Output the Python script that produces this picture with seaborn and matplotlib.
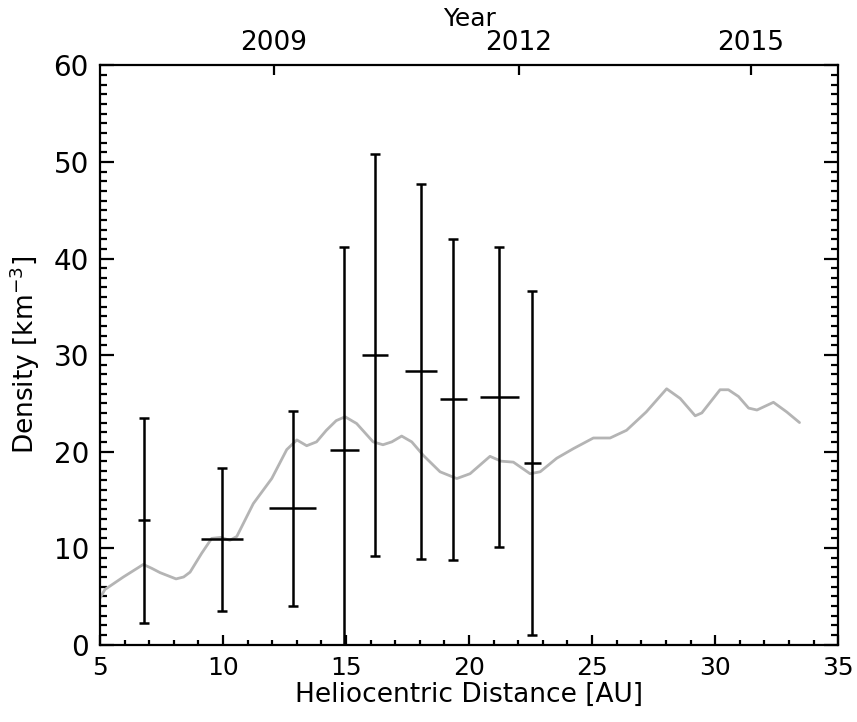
import numpy as np
import pandas as pd
import seaborn as sns
import matplotlib
matplotlib.use("Agg")
import matplotlib.pyplot as plt
from matplotlib.ticker import MultipleLocator, NullLocator

# error bar measurements
dist = [6.79, 9.95, 12.83, 14.93, 16.17, 18.05, 19.36, 21.23, 22.57]
dens = [12.9, 10.9, 14.1, 20.2, 30.0, 28.3, 25.4, 25.6, 18.8]
dens_hi = [23.5, 18.3, 24.2, 41.2, 50.8, 47.7, 42.0, 41.2, 36.6]
dens_lo = [2.2, 3.5, 4.0, -2.0, 9.2, 8.9, 8.8, 10.1, 1.0]
dist_err = [0.24, 0.86, 0.95, 0.6, 0.54, 0.64, 0.54, 0.79, 0.34]

# model curve (gray)
curve_x = [5.0, 5.2, 5.95, 6.76, 7.1, 7.44, 8.09, 8.4, 8.66, 9.13, 9.54, 9.9,
           10.28, 10.56, 11.23, 11.98, 12.59, 13.0, 13.4, 13.8, 14.2, 14.6,
           14.96, 15.43, 16.1, 16.5, 16.86, 17.26, 17.67, 18.14, 18.82, 19.5,
           20.04, 20.85, 21.3, 21.8, 22.48, 22.89, 23.56, 24.24, 25.05, 25.73,
           26.4, 27.2, 28.03, 28.58, 29.19, 29.46, 30.2, 30.54, 30.95, 31.36,
           31.7, 32.37, 32.91, 33.43]
curve_y = [4.8, 5.7, 7.0, 8.3, 7.9, 7.45, 6.8, 7.0, 7.5, 9.45, 11.0, 11.1,
           10.8, 11.2, 14.6, 17.2, 20.2, 21.2, 20.6, 21.0, 22.2, 23.2,
           23.6, 22.9, 21.0, 20.7, 21.0, 21.6, 21.0, 19.6, 17.9, 17.2,
           17.7, 19.5, 19.0, 18.9, 17.7, 17.9, 19.3, 20.3, 21.4, 21.4,
           22.2, 24.1, 26.5, 25.5, 23.7, 24.0, 26.4, 26.4, 25.7, 24.5,
           24.3, 25.1, 24.1, 23.0]

# top axis: year marks at heliocentric distance
year_pos = [12.07, 22.03, 31.46]
year_lab = ["2009", "2012", "2015"]

sns.set_theme(style="ticks")
plt.rcParams['font.family'] = ['DejaVu Sans']
plt.rcParams['text.color'] = 'black'
plt.rcParams['axes.labelcolor'] = 'black'

fig = plt.figure(figsize=(8.57, 7.22), dpi=100)
ax = fig.add_axes([0.1167, 0.1073, 0.8613, 0.802])

curve = pd.DataFrame({"x": curve_x, "y": curve_y})
sns.lineplot(data=curve, x="x", y="y", ax=ax, color="#b4b4b4", lw=2, sort=False)

d = np.array(dens)
yerr = [d - np.array(dens_lo), np.array(dens_hi) - d]
ax.errorbar(dist, dens, yerr=yerr, fmt="none", ecolor="black", elinewidth=1.8,
            capsize=3.5, capthick=1.8)
ax.errorbar(dist, dens, xerr=dist_err, fmt="none", ecolor="black",
            elinewidth=1.8, capsize=0)

ax.set_xlim(5, 35)
ax.set_ylim(0, 60)
ax.xaxis.set_major_locator(MultipleLocator(5))
ax.xaxis.set_minor_locator(MultipleLocator(1))
ax.yaxis.set_major_locator(MultipleLocator(10))
ax.yaxis.set_minor_locator(MultipleLocator(1))

for s in ax.spines.values():
    s.set_visible(True)
    s.set_linewidth(1.6)
    s.set_color("black")

ax.tick_params(axis="both", which="both", direction="in", top=False,
               right=True, colors="black", width=1.6)
ax.tick_params(axis="y", which="major", length=10, pad=8, labelsize=20)
ax.tick_params(axis="y", which="minor", length=5)
ax.tick_params(axis="x", which="major", length=7.5, pad=8, labelsize=18)
ax.tick_params(axis="x", which="minor", length=3.5)

ax.set_xlabel("Heliocentric Distance [AU]", fontsize=19, labelpad=2,
              color="black")
ax.set_ylabel("Density [km$^{-3}$]", fontsize=19, labelpad=8, color="black")

top = ax.secondary_xaxis("top")
top.set_xticks(year_pos)
top.set_xticklabels(year_lab)
top.xaxis.set_minor_locator(NullLocator())
top.tick_params(direction="in", length=7.5, width=1.6, labelsize=19, pad=7,
                colors="black")
top.set_xlabel("Year", fontsize=18, labelpad=3, color="black")

fig.savefig("out.png", dpi=100, facecolor="white")
